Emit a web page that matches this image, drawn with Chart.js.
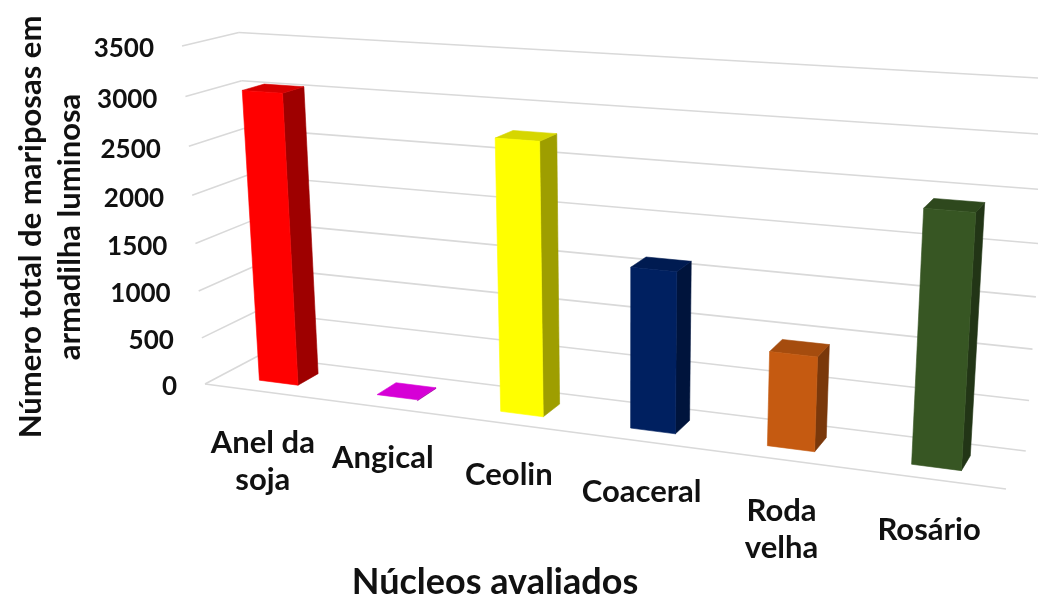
<!DOCTYPE html>
<html>
<head>
<meta charset="utf-8">
<script src="https://cdn.jsdelivr.net/npm/chart.js@4.4.1/dist/chart.umd.min.js"></script>
<style>
  html, body { margin: 0; padding: 0; background: #ffffff; }
  #wrap { width: 1038px; height: 599px; }
</style>
</head>
<body>
<div id="wrap"><canvas id="chart" width="1038" height="599"></canvas></div>
<script>
// Categories (multi-line labels as arrays), values and colours
const categories = [['Anel da', 'soja'], 'Angical', 'Ceolin', 'Coaceral', ['Roda', 'velha'], 'Rosário'];
const mothCounts = [3040, 8, 2750, 1610, 930, 2410];
const barColors = ['#FF0000', '#FF00FF', '#FFFF00', '#002060', '#C55A11', '#375623'];
const yTickMin = 0;
const yTickMax = 3500;
const yTickStep = 500;
const yAxisTitle = ['Número total de mariposas em', 'armadilha luminosa'];
const xAxisTitle = 'Núcleos avaliados';

// 3-D view: the chart area is the front plane; these describe how the
// floor, the walls and the depth axis are seen in perspective.
const VIEW = {
  floorDrop: 105,        // front floor edge falls this much from left to right end
  leftLean: -23,         // front-left edge leans this much at the top
  depthOffset: [53, -28],// back-left-bottom corner relative to front-left-bottom
  weightU: 0.856,        // homogeneous weights (perspective strength) per axis
  weightV: 0.948,
  weightW: 1.047,
  barDepth: [0.3, 0.7],  // bars occupy this slice of the depth
  sideShade: 0.62,
  topShade: 0.84
};

const FONT = 'Lato, "Open Sans", sans-serif';
const TEXT_COLOR = '#111111';
const GRID_COLOR = '#d9d9d9';

function makeProjector(area) {
  const ku = VIEW.weightU, kv = VIEW.weightV, kw = VIEW.weightW;
  const O = [area.left, area.bottom, 1];
  const U = [area.right * ku, (area.bottom + VIEW.floorDrop) * ku, ku];
  const V = [(area.left + VIEW.leftLean) * kv, area.top * kv, kv];
  const W = [(area.left + VIEW.depthOffset[0]) * kw, (area.bottom + VIEW.depthOffset[1]) * kw, kw];
  const du = U.map((c, i) => c - O[i]);
  const dv = V.map((c, i) => c - O[i]);
  const dw = W.map((c, i) => c - O[i]);
  return (u, v, w) => {
    const h = [0, 1, 2].map(i => O[i] + u * du[i] + v * dv[i] + w * dw[i]);
    return [h[0] / h[2], h[1] / h[2]];
  };
}

function shade(hex, f) {
  const n = parseInt(hex.slice(1), 16);
  const r = Math.round(((n >> 16) & 255) * f);
  const g = Math.round(((n >> 8) & 255) * f);
  const b = Math.round((n & 255) * f);
  return `rgb(${r},${g},${b})`;
}

function poly(ctx, pts, fill) {
  ctx.beginPath();
  ctx.moveTo(pts[0][0], pts[0][1]);
  for (let i = 1; i < pts.length; i++) ctx.lineTo(pts[i][0], pts[i][1]);
  ctx.closePath();
  ctx.fillStyle = fill;
  ctx.fill();
  ctx.strokeStyle = fill;
  ctx.lineWidth = 0.6;
  ctx.stroke();
}

function line(ctx, a, b) {
  ctx.beginPath();
  ctx.moveTo(a[0], a[1]);
  ctx.lineTo(b[0], b[1]);
  ctx.stroke();
}

const perspective3d = {
  id: 'perspective3d',
  beforeDraw(chart) {
    const ctx = chart.ctx;
    ctx.save();
    ctx.fillStyle = '#ffffff';
    ctx.fillRect(0, 0, chart.width, chart.height);
    ctx.restore();
  },
  beforeDatasetsDraw(chart) {
    const ctx = chart.ctx;
    const area = chart.chartArea;
    const P = makeProjector(area);
    const yScale = chart.scales.y;
    const H = area.bottom - area.top;
    const Wd = area.right - area.left;

    // Walls and floor gridlines
    ctx.save();
    ctx.strokeStyle = GRID_COLOR;
    ctx.lineWidth = 1.6;
    yScale.ticks.forEach(t => {
      const v = (area.bottom - yScale.getPixelForValue(t.value)) / H;
      line(ctx, P(0, v, 0), P(0, v, 1));
      line(ctx, P(0, v, 1), P(1, v, 1));
    });
    line(ctx, P(0, 0, 0), P(1, 0, 0));
    ctx.restore();

    // Columns built from the bar elements laid out by Chart.js
    const meta = chart.getDatasetMeta(0);
    const [w0, w1] = VIEW.barDepth;
    ctx.save();
    meta.data.forEach(el => {
      const p = el.getProps(['x', 'y', 'base', 'width'], true);
      const u0 = (p.x - p.width / 2 - area.left) / Wd;
      const u1 = (p.x + p.width / 2 - area.left) / Wd;
      const vt = (area.bottom - p.y) / H;
      const vb = (area.bottom - p.base) / H;
      const col = el.options.backgroundColor;
      poly(ctx, [P(u1, vb, w0), P(u1, vb, w1), P(u1, vt, w1), P(u1, vt, w0)], shade(col, VIEW.sideShade));
      poly(ctx, [P(u0, vt, w0), P(u1, vt, w0), P(u1, vt, w1), P(u0, vt, w1)], shade(col, VIEW.topShade));
      if (vt - vb > 0.01) {
        poly(ctx, [P(u0, vb, w0), P(u1, vb, w0), P(u1, vt, w0), P(u0, vt, w0)], col);
      }
    });
    ctx.restore();
    return false;
  },
  afterDraw(chart) {
    const ctx = chart.ctx;
    const area = chart.chartArea;
    const P = makeProjector(area);
    const yScale = chart.scales.y;
    const xScale = chart.scales.x;
    const H = area.bottom - area.top;
    const Wd = area.right - area.left;

    ctx.save();
    ctx.fillStyle = TEXT_COLOR;

    // Value axis tick labels along the front-left edge
    ctx.font = `bold 26px ${FONT}`;
    ctx.textAlign = 'right';
    ctx.textBaseline = 'middle';
    yScale.ticks.forEach(t => {
      const v = (area.bottom - yScale.getPixelForValue(t.value)) / H;
      const q = P(0, v, 0);
      ctx.fillText(String(t.value), q[0] - 28, q[1] + 3);
    });

    // Category labels below the front floor edge
    ctx.font = `bold 31px ${FONT}`;
    ctx.textAlign = 'center';
    xScale.ticks.forEach((t, i) => {
      const u = (xScale.getPixelForTick(i) - area.left) / Wd;
      const q = P(u, 0, 0);
      const lbl = chart.data.labels[i];
      const lines = Array.isArray(lbl) ? lbl : [lbl];
      lines.forEach((s, k) => ctx.fillText(s, q[0], q[1] + 51 + k * 37));
    });

    // Axis titles
    ctx.font = `bold 36px ${FONT}`;
    ctx.fillText(xAxisTitle, 495, 582);

    ctx.font = `bold 31px ${FONT}`;
    yAxisTitle.forEach((s, k) => {
      ctx.save();
      ctx.translate(31 + k * 39, 227);
      ctx.rotate(-Math.PI / 2);
      ctx.fillText(s, 0, 0);
      ctx.restore();
    });
    ctx.restore();
  }
};

new Chart(document.getElementById('chart'), {
  type: 'bar',
  data: {
    labels: categories,
    datasets: [{
      data: mothCounts,
      backgroundColor: barColors,
      categoryPercentage: 1,
      barPercentage: 1 / 3
    }]
  },
  options: {
    responsive: false,
    devicePixelRatio: 1,
    animation: false,
    layout: { padding: { left: 205, top: 46, right: 32, bottom: 215 } },
    plugins: { legend: { display: false }, tooltip: { enabled: false }, title: { display: false } },
    scales: {
      x: { display: false },
      y: { display: false, min: yTickMin, max: yTickMax, ticks: { stepSize: yTickStep } }
    }
  },
  plugins: [perspective3d]
});
</script>
</body>
</html>
